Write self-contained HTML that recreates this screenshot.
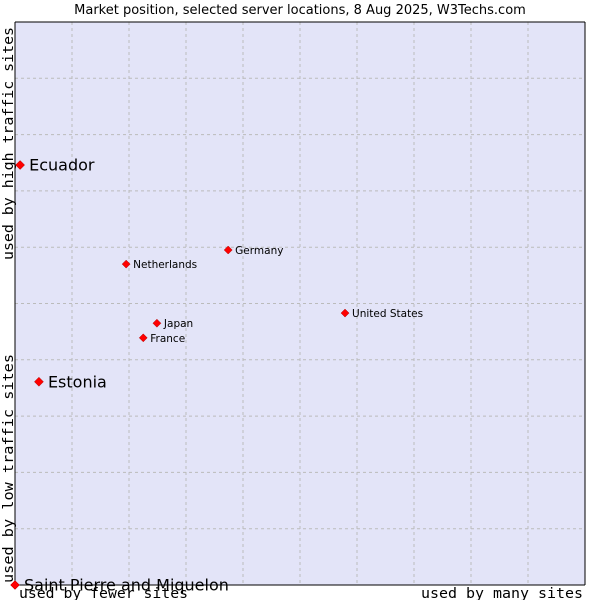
<!DOCTYPE html>
<html><head><meta charset="utf-8"><style>
body{margin:0;background:#fff;}
svg{display:block;}
</style></head><body>
<svg id="chart" width="600" height="600" xmlns="http://www.w3.org/2000/svg">
<text x="300" y="14" text-anchor="middle" font-family="DejaVu Sans, sans-serif" font-size="13" fill="#000">Market position, selected server locations, 8 Aug 2025, W3Techs.com</text>
<rect x="15" y="22" width="570" height="563" fill="#e3e4f8"/>
<g id="grid"></g>
<line x1="15" y1="22" x2="15" y2="585" stroke="#000"/>
<line x1="15" y1="585" x2="585" y2="585" stroke="#000"/>
<line x1="15" y1="22" x2="585" y2="22" stroke="#000"/>
<line x1="585" y1="22" x2="585" y2="585" stroke="#000"/>
<g id="points"></g>
<text x="19" y="598" textLength="169" lengthAdjust="spacingAndGlyphs" font-family="DejaVu Sans Mono, Liberation Mono, monospace" font-size="14.5">used by fewer sites</text>
<text x="421" y="598" textLength="162" lengthAdjust="spacingAndGlyphs" font-family="DejaVu Sans Mono, Liberation Mono, monospace" font-size="14.5">used by many sites</text>
<text transform="translate(13,583) rotate(-90)" textLength="229" lengthAdjust="spacingAndGlyphs" font-family="DejaVu Sans Mono, Liberation Mono, monospace" font-size="14.5">used by low traffic sites</text>
<text transform="translate(13,260) rotate(-90)" textLength="233" lengthAdjust="spacingAndGlyphs" font-family="DejaVu Sans Mono, Liberation Mono, monospace" font-size="14.5">used by high traffic sites</text>
</svg>
<script>
const names = ["Ecuador","Estonia","Saint Pierre and Miquelon","Netherlands","Germany","United States","Japan","France"];
const xValues = [0.9, 4.2, 0, 19.5, 37.4, 57.9, 24.9, 22.5];
const yValues = [74.6, 36.1, 0, 57.0, 59.5, 48.3, 46.5, 43.9];
const bigLabel = [true, true, true, false, false, false, false, false];
const L=15,R=585,T=22,B=585;
const xs=v=>L+(R-L)*v/100, ys=v=>B-(B-T)*v/100;
const NS="http://www.w3.org/2000/svg";
const grid=document.getElementById('grid');
for(let i=1;i<10;i++){
  const v=document.createElementNS(NS,'line');
  v.setAttribute('x1',xs(i*10));v.setAttribute('x2',xs(i*10));v.setAttribute('y1',T);v.setAttribute('y2',B);
  v.setAttribute('stroke','#bbbbbb');v.setAttribute('stroke-dasharray','3,3');
  
  
  grid.appendChild(v);
  const h=document.createElementNS(NS,'line');
  h.setAttribute('y1',ys(i*10));h.setAttribute('y2',ys(i*10));h.setAttribute('x1',L);h.setAttribute('x2',R);
  h.setAttribute('stroke','#bbbbbb');h.setAttribute('stroke-dasharray','3,3');
  
  
  grid.appendChild(h);
}
const pts=document.getElementById('points');
names.forEach((n,i)=>{
  const x=xs(xValues[i]), y=ys(yValues[i]);
  const r=bigLabel[i]?4.5:4;
  const d=document.createElementNS(NS,'polygon');
  d.setAttribute('points',`${x},${y-r} ${x+r},${y} ${x},${y+r} ${x-r},${y}`);
  d.setAttribute('fill','#f00');d.setAttribute('stroke','#a00');d.setAttribute('stroke-width','0.5');
  
  
  pts.appendChild(d);
  const t=document.createElementNS(NS,'text');
  t.setAttribute('x',x+(bigLabel[i]?9:7));
  t.setAttribute('y',y+(bigLabel[i]?5.5:4));
  t.setAttribute('font-family','DejaVu Sans, sans-serif');
  t.setAttribute('font-size',bigLabel[i]?'16':'10.5');
  t.setAttribute('fill','#000');
  t.textContent=n;
  
  
  pts.appendChild(t);
});
</script>
</body></html>
